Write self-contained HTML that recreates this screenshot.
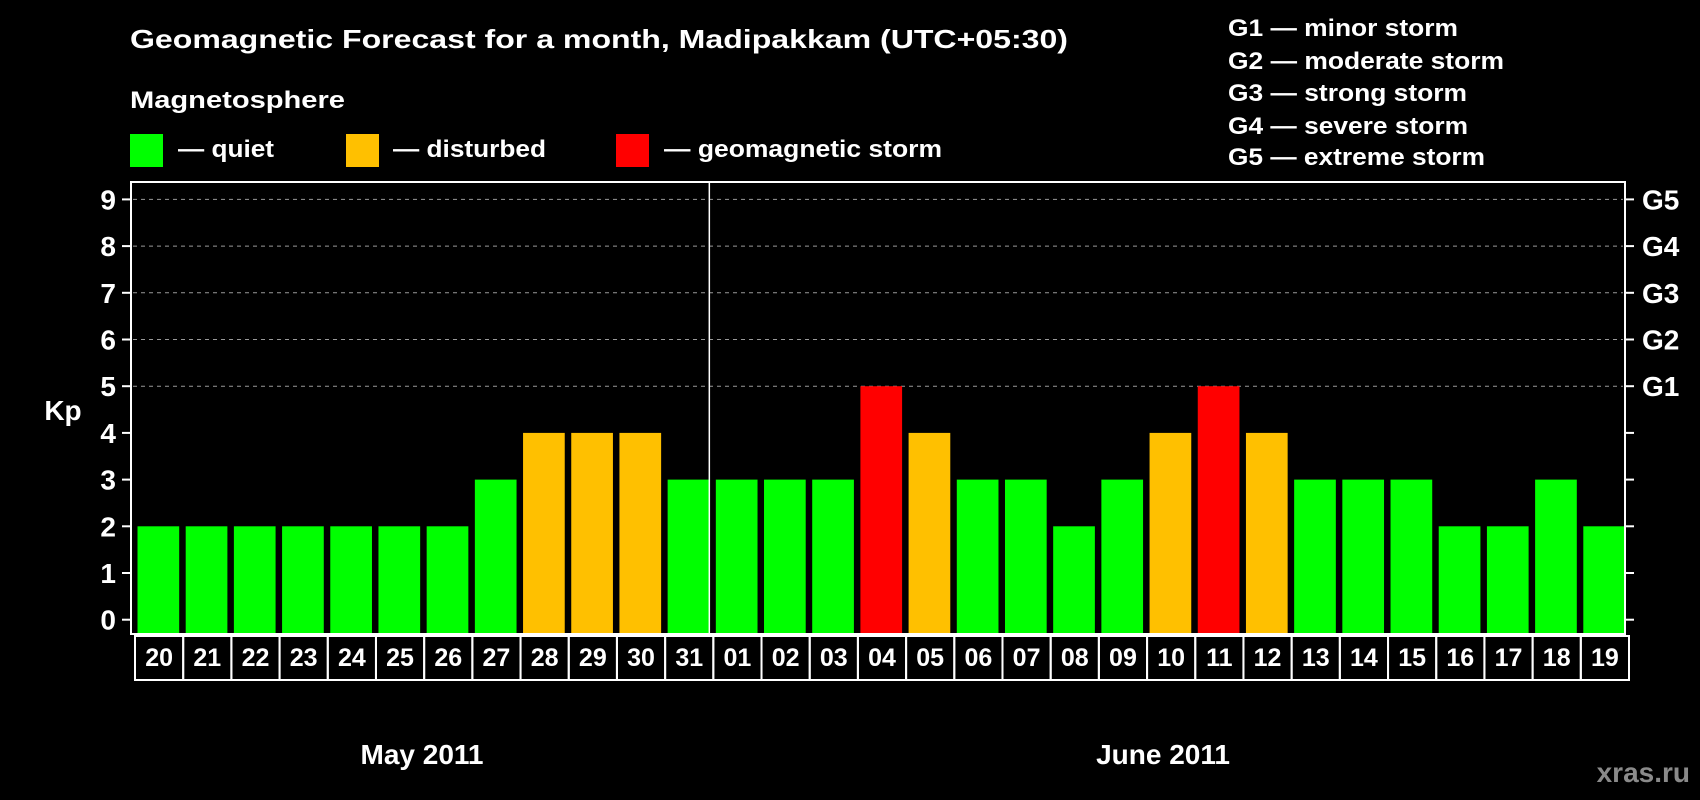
<!DOCTYPE html>
<html><head><meta charset="utf-8"><style>
html,body{margin:0;padding:0;background:#000;}
svg{display:block;font-family:"Liberation Sans",Arial,sans-serif;font-weight:bold;}
</style></head><body>
<svg id="chart" width="1700" height="800" viewBox="0 0 1700 800">
<rect x="0" y="0" width="1700" height="800" fill="#000"/>
<text x="130" y="48" fill="#fff" font-size="26" textLength="938" lengthAdjust="spacingAndGlyphs">Geomagnetic Forecast for a month, Madipakkam (UTC+05:30)</text>
<text x="130" y="108" fill="#fff" font-size="24" textLength="215" lengthAdjust="spacingAndGlyphs">Magnetosphere</text>
<g>
<rect x="130" y="134" width="33" height="33" fill="#00ff00"/>
<text x="178" y="157" fill="#fff" font-size="24" textLength="96" lengthAdjust="spacingAndGlyphs">— quiet</text>
</g>
<g>
<rect x="346" y="134" width="33" height="33" fill="#ffc000"/>
<text x="393" y="157" fill="#fff" font-size="24" textLength="153" lengthAdjust="spacingAndGlyphs">— disturbed</text>
</g>
<g>
<rect x="616" y="134" width="33" height="33" fill="#ff0000"/>
<text x="664" y="157" fill="#fff" font-size="24" textLength="278" lengthAdjust="spacingAndGlyphs">— geomagnetic storm</text>
</g>
<g>
<text x="1228" y="36" fill="#fff" font-size="24" textLength="230" lengthAdjust="spacingAndGlyphs">G1 — minor storm</text>
<text x="1228" y="69" fill="#fff" font-size="24" textLength="276" lengthAdjust="spacingAndGlyphs">G2 — moderate storm</text>
<text x="1228" y="101" fill="#fff" font-size="24" textLength="239" lengthAdjust="spacingAndGlyphs">G3 — strong storm</text>
<text x="1228" y="134" fill="#fff" font-size="24" textLength="240" lengthAdjust="spacingAndGlyphs">G4 — severe storm</text>
<text x="1228" y="165" fill="#fff" font-size="24" textLength="257" lengthAdjust="spacingAndGlyphs">G5 — extreme storm</text>
</g>
<text x="63" y="420" fill="#fff" font-size="28" text-anchor="middle">Kp</text>
<text x="422" y="764" fill="#fff" font-size="28" text-anchor="middle">May 2011</text>
<text x="1163" y="764" fill="#fff" font-size="28" text-anchor="middle">June 2011</text>
<text x="1690" y="782" fill="#8a8a8a" font-size="28" text-anchor="end">xras.ru</text>
<g id="plot"></g>
</svg>
<script>
const days = ["20","21","22","23","24","25","26","27","28","29","30","31","01","02","03","04","05","06","07","08","09","10","11","12","13","14","15","16","17","18","19"];
const kpValues = [2,2,2,2,2,2,2,3,4,4,4,3,3,3,3,5,4,3,3,2,3,4,5,4,3,3,3,2,2,3,2];
const yTicks = [0,1,2,3,4,5,6,7,8,9];
const gLabels = ["G1","G2","G3","G4","G5"];
const gLevels = [5,6,7,8,9];
const monthBreakIndex = 12;

const NS = "http://www.w3.org/2000/svg";
const plotG = document.getElementById('plot');
const pLeft = 131, pRight = 1625, pTop = 182, pBottom = 634;
const y0px = 619.7, unit = 46.7;
const slot = (pRight - pLeft) / days.length;
function yScale(v){ return y0px - v * unit; }
function xScale(i){ return pLeft + i * slot; }
function barColor(v){ return v >= 5 ? '#ff0000' : (v >= 4 ? '#ffc000' : '#00ff00'); }
function mk(tag, attrs){ const e = document.createElementNS(NS, tag); for (const k in attrs) e.setAttribute(k, attrs[k]); plotG.appendChild(e); return e; }

yTicks.forEach(t => {
  if (t >= 5) {
    const g = mk('line', {x1:pLeft+2, x2:pRight-2, y1:yScale(t), y2:yScale(t), stroke:'#999', 'stroke-width':1, 'stroke-dasharray':'4,4'});
    
    
  }
  const tl = mk('line', {x1:pLeft-9, x2:pLeft, y1:yScale(t), y2:yScale(t), stroke:'#fff', 'stroke-width':2});
  
  
  const tr = mk('line', {x1:pRight, x2:pRight+9, y1:yScale(t), y2:yScale(t), stroke:'#fff', 'stroke-width':2});
  
  
  const lb = mk('text', {x:116, y:yScale(t)+10, fill:'#fff', 'font-size':28, 'text-anchor':'end'});
  lb.textContent = t;
  
  
});
gLabels.forEach((g, i) => {
  const t = mk('text', {x:1642, y:yScale(gLevels[i])+10, fill:'#fff', 'font-size':28});
  t.textContent = g;
  
  
});

kpValues.forEach((v, i) => {
  const x = xScale(i);
  const b = mk('rect', {x:x+6.5, y:yScale(v), width:slot-6.5, height:pBottom-1-yScale(v), fill:barColor(v)});
  
  
  const c = mk('rect', {x:x+4, y:636, width:slot, height:44, fill:'none', stroke:'#fff', 'stroke-width':2});
  
  
  const t = mk('text', {x:x+4+slot/2, y:666, fill:'#fff', 'font-size':25, 'text-anchor':'middle'});
  t.textContent = days[i];
  
  
});

const fr = mk('rect', {x:pLeft, y:pTop, width:pRight-pLeft, height:pBottom-pTop, fill:'none', stroke:'#fff', 'stroke-width':2});


const div = mk('line', {x1:xScale(monthBreakIndex), x2:xScale(monthBreakIndex), y1:pTop, y2:pBottom, stroke:'#fff', 'stroke-width':1.5});


</script>
</body></html>
